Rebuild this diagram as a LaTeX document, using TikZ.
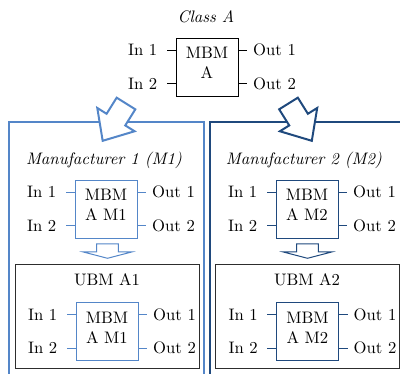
\documentclass[tikz,border=0pt]{standalone}
\usetikzlibrary{calc}
\definecolor{mlight}{RGB}{84,134,200}
\definecolor{mdark}{RGB}{31,73,125}
\definecolor{ubmline}{RGB}{45,45,45}

\tikzset{
  blockbox/.style={draw, rectangle, line width=0.55pt, inner sep=0pt,
                   minimum width=37.2pt, minimum height=34.8pt},
  blocktext/.style={align=center, inner sep=0pt},
  stub/.style={line width=0.55pt},
  inlabel/.style={anchor=east, inner sep=0pt, inner xsep=5.3pt, text=black},
  outlabel/.style={anchor=west, inner sep=0pt, inner xsep=3.2pt, text=black},
  framebox/.style={line width=1.2pt},
  ubmbox/.style={draw=ubmline, line width=0.55pt},
  bigarrow/.style={line width=1.2pt, fill=white, line join=miter},
  smallarrow/.style={line width=0.6pt, fill=white},
}

% block with two inputs and two outputs: name, x, y, colour, text
\newcommand{\portblock}[5]{%
  \node[blockbox, draw=#4] (#1) at (#2,#3) {};
  \node[blocktext] (#1-t) at ($(#1.north)+(0,25.5)$) {#5};
  \draw[stub, #4] ($(#1.north west)+(0,12.5)$) -- ++(-9,0) node[inlabel] (#1-i1) {In 1};
  \draw[stub, #4] ($(#1.north west)+(0,46)$) -- ++(-9,0) node[inlabel] (#1-i2) {In 2};
  \draw[stub, #4] ($(#1.north east)+(0,12.5)$) -- ++(9,0) node[outlabel] (#1-o1) {Out 1};
  \draw[stub, #4] ($(#1.north east)+(0,46)$) -- ++(9,0) node[outlabel] (#1-o2) {Out 2};
}

% hollow block arrow pointing along the local x axis
\newcommand{\blockarrow}[4]{% x, y, angle, colour
  \begin{scope}[shift={(#1,#2)}, rotate=#3]
    \draw[bigarrow, draw=#4] (0,11) -- (19,11) -- (19,22) -- (44,0)
      -- (19,-22) -- (19,-11) -- (0,-11) -- cycle;
  \end{scope}
}

% small hollow arrow pointing down
\newcommand{\downarrowshape}[2]{% x, colour
  \draw[smallarrow, draw=#2] (#1-10.8,244) -- (#1+10.8,244) -- (#1+10.8,252)
    -- (#1+24.2,252) -- (#1,258.3) -- (#1-24.2,252) -- (#1-10.8,252) -- cycle;
}

\begin{document}
\begin{tikzpicture}[x=0.6pt, y=-0.6pt]
  \useasboundingbox (0,0) rectangle (400,374);
  \clip (0,0) rectangle (400,374);

  % manufacturer frames
  \draw[framebox, mlight] (9,122) rectangle (204,390);
  \draw[framebox, mdark] (210,122) rectangle (405,390);

  % class block
  \node (classA) at (206,17) {\textit{Class A}};
  \portblock{mbmA}{207}{67}{black}{MBM\\A}

  % arrows from the class to each manufacturer
  \blockarrow{126}{103.5}{-122}{mlight}
  \blockarrow{288.5}{103.5}{-58}{mdark}

  % manufacturer 1
  \node (m1title) at (104,160) {\textit{Manufacturer 1 (M1)}};
  \portblock{mbmM1}{106}{209}{mlight}{MBM\\A M1}
  \downarrowshape{107.5}{mlight}
  \draw[ubmbox] (15,264) rectangle (199,368);
  \node (ubm1) at (107,280) {UBM A1};
  \portblock{ubmM1}{107}{331.5}{mlight}{MBM\\A M1}

  % manufacturer 2
  \node (m2title) at (304,160) {\textit{Manufacturer 2 (M2)}};
  \portblock{mbmM2}{307}{209}{mdark}{MBM\\A M2}
  \downarrowshape{307.5}{mdark}
  \draw[ubmbox] (215,264) rectangle (399,368);
  \node (ubm2) at (307,280) {UBM A2};
  \portblock{ubmM2}{307.5}{331.5}{mdark}{MBM\\A M2}
\end{tikzpicture}
\end{document}
